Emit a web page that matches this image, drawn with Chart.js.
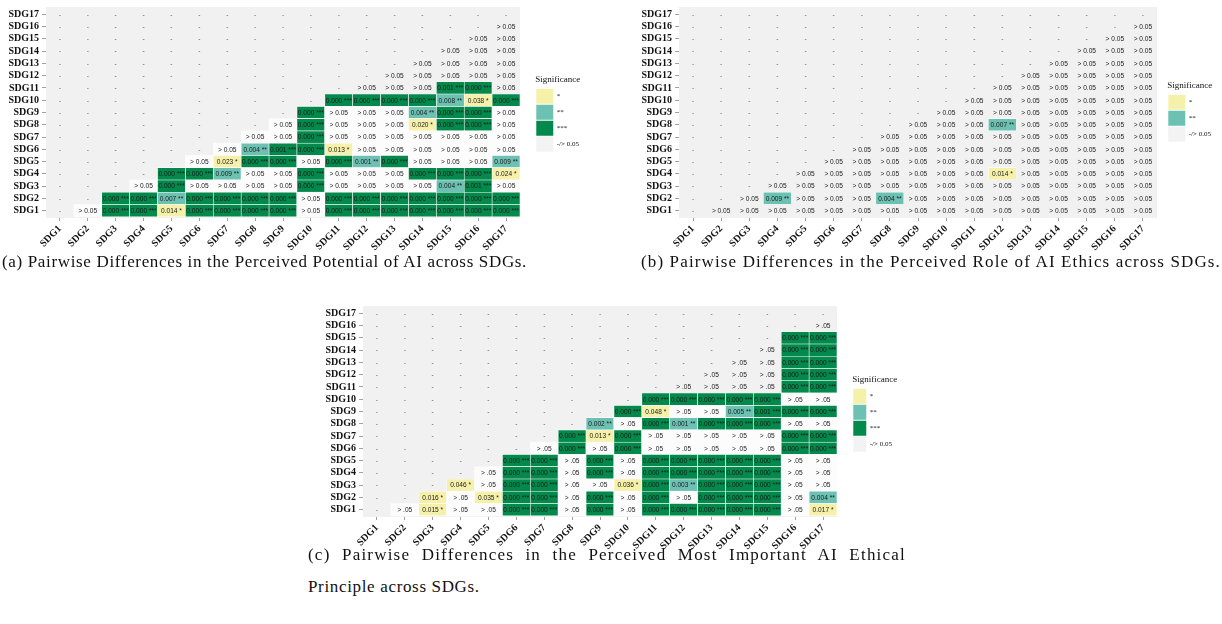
<!DOCTYPE html>
<html><head><meta charset="utf-8">
<script src="https://cdn.jsdelivr.net/npm/chart.js@4.4.1/dist/chart.umd.min.js"></script>
<style>
html,body{margin:0;padding:0;background:#fff;overflow:hidden;width:1222px;height:624px;position:relative;}
canvas{position:absolute;}
.cap{position:absolute;font-family:'Liberation Serif','Times New Roman',serif;font-size:17px;line-height:20px;color:#111;white-space:nowrap;}
</style></head><body>
<canvas id="chartA"></canvas>
<canvas id="chartB"></canvas>
<canvas id="chartC"></canvas>
<div class="cap" id="capA">(a) Pairwise Differences in the Perceived Potential of AI across SDGs.</div>
<div class="cap" id="capB">(b) Pairwise Differences in the Perceived Role of AI Ethics across SDGs.</div>
<div class="cap" id="capC1">(c) Pairwise Differences in the Perceived Most Important AI Ethical</div>
<div class="cap" id="capC2">Principle across SDGs.</div>
<script>
// ---------- data ----------
const sdgLabels = ['SDG1','SDG2','SDG3','SDG4','SDG5','SDG6','SDG7','SDG8','SDG9','SDG10','SDG11','SDG12','SDG13','SDG14','SDG15','SDG16','SDG17'];
const legendFull = ['*','**','***','-/> 0.05'];
const legendEthics = ['*','**','-/> 0.05'];

// Row i lists the comparisons SDGi vs SDG(i+1) ... SDG17; 'ns' = not significant
const potentialRows = [
 ['ns','0.000 ***','0.000 ***','0.014 *','0.000 ***','0.000 ***','0.000 ***','0.000 ***','ns','0.000 ***','0.000 ***','0.000 ***','0.000 ***','0.000 ***','0.000 ***','0.000 ***'],
 ['0.000 ***','0.000 ***','0.007 **','0.000 ***','0.000 ***','0.000 ***','0.000 ***','ns','0.000 ***','0.000 ***','0.000 ***','0.000 ***','0.000 ***','0.000 ***','0.000 ***'],
 ['ns','0.000 ***','ns','ns','ns','ns','0.000 ***','ns','ns','ns','ns','0.004 **','0.001 ***','ns'],
 ['0.000 ***','0.000 ***','0.009 **','ns','ns','0.000 ***','ns','ns','ns','0.000 ***','0.000 ***','0.000 ***','0.024 *'],
 ['ns','0.023 *','0.000 ***','0.000 ***','ns','0.000 ***','0.001 **','0.000 ***','ns','ns','ns','0.009 **'],
 ['ns','0.004 **','0.001 ***','0.000 ***','0.013 *','ns','ns','ns','ns','ns','ns'],
 ['ns','ns','0.000 ***','ns','ns','ns','ns','ns','ns','ns'],
 ['ns','0.000 ***','ns','ns','ns','0.020 *','0.000 ***','0.000 ***','ns'],
 ['0.000 ***','ns','ns','ns','0.004 **','0.000 ***','0.000 ***','ns'],
 ['0.000 ***','0.000 ***','0.000 ***','0.000 ***','0.008 **','0.038 *','0.000 ***'],
 ['ns','ns','ns','0.001 ***','0.000 ***','ns'],
 ['ns','ns','ns','ns','ns'],
 ['ns','ns','ns','ns'],
 ['ns','ns','ns'],
 ['ns','ns'],
 ['ns'],
 []
];

const ethicsRoleRows = [
 ['ns','ns','ns','ns','ns','ns','ns','ns','ns','ns','ns','ns','ns','ns','ns','ns'],
 ['ns','0.009 **','ns','ns','ns','0.004 **','ns','ns','ns','ns','ns','ns','ns','ns','ns'],
 ['ns','ns','ns','ns','ns','ns','ns','ns','ns','ns','ns','ns','ns','ns'],
 ['ns','ns','ns','ns','ns','ns','ns','0.014 *','ns','ns','ns','ns','ns'],
 ['ns','ns','ns','ns','ns','ns','ns','ns','ns','ns','ns','ns'],
 ['ns','ns','ns','ns','ns','ns','ns','ns','ns','ns','ns'],
 ['ns','ns','ns','ns','ns','ns','ns','ns','ns','ns'],
 ['ns','ns','ns','0.007 **','ns','ns','ns','ns','ns'],
 ['ns','ns','ns','ns','ns','ns','ns','ns'],
 ['ns','ns','ns','ns','ns','ns','ns'],
 ['ns','ns','ns','ns','ns','ns'],
 ['ns','ns','ns','ns','ns'],
 ['ns','ns','ns','ns'],
 ['ns','ns','ns'],
 ['ns','ns'],
 ['ns'],
 []
];

const principleRows = [
 ['ns','0.015 *','ns','ns','0.000 ***','0.000 ***','ns','0.000 ***','ns','0.000 ***','0.000 ***','0.000 ***','0.000 ***','0.000 ***','ns','0.017 *'],
 ['0.016 *','ns','0.035 *','0.000 ***','0.000 ***','ns','0.000 ***','ns','0.000 ***','ns','0.000 ***','0.000 ***','0.000 ***','ns','0.004 **'],
 ['0.046 *','ns','0.000 ***','0.000 ***','ns','ns','0.036 *','0.000 ***','0.003 **','0.000 ***','0.000 ***','0.000 ***','ns','ns'],
 ['ns','0.000 ***','0.000 ***','ns','0.000 ***','ns','0.000 ***','0.000 ***','0.000 ***','0.000 ***','0.000 ***','ns','ns'],
 ['0.000 ***','0.000 ***','ns','0.000 ***','ns','0.000 ***','0.000 ***','0.000 ***','0.000 ***','0.000 ***','ns','ns'],
 ['ns','0.000 ***','ns','0.000 ***','ns','ns','ns','ns','ns','0.000 ***','0.000 ***'],
 ['0.000 ***','0.013 *','0.000 ***','ns','ns','ns','ns','ns','0.000 ***','0.000 ***'],
 ['0.002 **','ns','0.000 ***','0.001 **','0.000 ***','0.000 ***','0.000 ***','ns','ns'],
 ['0.000 ***','0.048 *','ns','ns','0.005 **','0.001 ***','0.000 ***','0.000 ***'],
 ['0.000 ***','0.000 ***','0.000 ***','0.000 ***','0.000 ***','ns','ns'],
 ['ns','ns','ns','ns','0.000 ***','0.000 ***'],
 ['ns','ns','ns','0.000 ***','0.000 ***'],
 ['ns','ns','0.000 ***','0.000 ***'],
 ['ns','0.000 ***','0.000 ***'],
 ['0.000 ***','0.000 ***'],
 ['ns'],
 []
];

// ---------- styling ----------
const SERIF = "'Liberation Serif', 'Times New Roman', serif";
const SANS = "'Liberation Sans', Arial, sans-serif";
const sigColors = ['#f6f1aa', '#6dc1b3', '#02894b'];   // *, **, ***
const nsLight = '#fcfcfc';
const panelBg = '#f1f1f1';
const legendNs = '#f3f3f3';

function starsOf(t) { if (!t || t === 'ns') return 0; const m = t.match(/\*+/); return m ? m[0].length : 0; }
function measure(font, text) { const c = document.createElement('canvas').getContext('2d'); c.font = font; return c.measureText(text).width; }

function makePanel(cfg) {
  const rows = cfg.rows;
  const datasets = sdgLabels.map((lab, i) => {
    const r = i + 1;
    const data = [], bg = [], bw = [];
    sdgLabels.forEach((_, j) => {
      const c = j + 1;
      if (c <= r) { data.push(null); bg.push('rgba(0,0,0,0)'); bw.push(0); return; }
      const t = rows[i][c - r - 1];
      const s = starsOf(t);
      data.push([r - 0.5, r + 0.5]);
      if (s > 0) { bg.push(sigColors[s - 1]); bw.push(0.6); }
      else { bg.push(r <= cfg.lightRows ? nsLight : panelBg); bw.push(0); }
    });
    return { label: lab, data, backgroundColor: bg, borderColor: '#ffffff', borderWidth: bw,
      borderSkipped: false, grouped: false, barPercentage: 1, categoryPercentage: 1 };
  });

  const legendFontSize = 7;
  const maxText = Math.max(...cfg.legendItems.map(t => measure(`${legendFontSize}px ${SERIF}`, t)));
  const legendW = 1 + cfg.boxW + legendFontSize / 2 + maxText + 10;
  const innerRight = cfg.chartRight - cfg.left;
  const W = Math.ceil(innerRight + cfg.boxLeft - 1 - cfg.chartRight + legendW);
  const gap = W - legendW - innerRight;
  const H = 255;
  const cv = document.getElementById(cfg.id);
  cv.width = W; cv.height = H;
  cv.style.left = cfg.left + 'px'; cv.style.top = cfg.top + 'px';

  const tickFont = { family: SERIF, size: 10, weight: 'bold' };
  const textPlugin = {
    id: 'cellText' + cfg.id,
    afterDatasetsDraw(chart) {
      const { ctx, scales: { x, y } } = chart;
      ctx.save();
      ctx.font = `6.6px ${SANS}`;
      ctx.textAlign = 'center'; ctx.textBaseline = 'middle';
      sdgLabels.forEach((_, i) => {
        const r = i + 1;
        sdgLabels.forEach((_, j) => {
          const c = j + 1;
          let t;
          if (c <= r) { t = '-'; ctx.fillStyle = '#555'; }
          else { const v = rows[i][c - r - 1]; t = v === 'ns' ? cfg.nsText : v; ctx.fillStyle = '#1a1a1a'; }
          ctx.fillText(t, x.getPixelForValue(j), y.getPixelForValue(r) + 0.5);
        });
      });
      ctx.restore();
    }
  };
  const bgPlugin = {
    id: 'panelBg' + cfg.id,
    beforeDatasetsDraw(chart) {
      const { ctx, chartArea: a } = chart;
      ctx.save(); ctx.fillStyle = panelBg; ctx.fillRect(a.left, a.top, a.width, a.height); ctx.restore();
    }
  };

  return new Chart(cv, {
    type: 'bar',
    data: { labels: sdgLabels, datasets },
    options: {
      responsive: false, animation: false, devicePixelRatio: 1,
      layout: { autoPadding: false, padding: { top: 7, left: 0, right: 0, bottom: 0 } },
      plugins: {
        tooltip: { enabled: false },
        legend: {
          display: true, position: 'right', align: 'start', fullSize: true,
          onClick: null,
          title: { display: true, text: 'Significance', position: 'start', color: '#111',
            font: { family: SERIF, size: 9 }, padding: { top: cfg.legendTop, bottom: 2, left: 0, right: 0 } },
          labels: {
            boxWidth: cfg.boxW, boxHeight: 15, padding: 1, color: '#222',
            font: { family: SERIF, size: legendFontSize },
            generateLabels: () => cfg.legendItems.map((t, k) => ({
              text: t, fillStyle: cfg.legendColors[k], strokeStyle: 'rgba(0,0,0,0)', lineWidth: 0, hidden: false, index: k
            }))
          }
        }
      },
      scales: {
        x: {
          type: 'category', offset: true,
          grid: { display: true, drawOnChartArea: false, drawTicks: true, tickLength: 3, color: '#a0a0a0', offset: false },
          border: { display: false },
          ticks: { autoSkip: false, maxRotation: 45, minRotation: 45, padding: 2, color: '#111', font: tickFont },
          afterFit(s) { s.height = H - 7 - 211; s.paddingLeft = 0; s.paddingRight = 0; }
        },
        y: {
          type: 'linear', min: 0.4, max: 17.6,
          grid: { display: true, drawOnChartArea: false, drawTicks: true, tickLength: 4, color: '#a0a0a0' },
          border: { display: false },
          afterBuildTicks(s) { s.ticks = sdgLabels.map((_, i) => ({ value: i + 1 })); },
          ticks: { autoSkip: false, padding: 3, color: '#111', font: tickFont, callback: (v) => sdgLabels[Math.round(v) - 1] },
          afterFit(s) { s.width = cfg.yW; s.paddingTop = 0; s.paddingBottom = 0; }
        },
        gap: {
          type: 'linear', position: 'right', display: true,
          grid: { display: false }, border: { display: false }, ticks: { display: false },
          afterFit(s) { s.width = gap; s.paddingTop = 0; s.paddingBottom = 0; }
        }
      }
    },
    plugins: [bgPlugin, textPlugin]
  });
}

makePanel({ id: 'chartA', left: 0, top: 0, yW: 46, chartRight: 520, boxLeft: 536, boxW: 17, legendTop: 68,
  rows: potentialRows, nsText: '> 0.05', lightRows: 10,
  legendItems: legendFull, legendColors: [sigColors[0], sigColors[1], sigColors[2], legendNs] });
makePanel({ id: 'chartB', left: 634, top: 0, yW: 45, chartRight: 1157, boxLeft: 1168, boxW: 17, legendTop: 74,
  rows: ethicsRoleRows, nsText: '> 0.05', lightRows: 0,
  legendItems: legendEthics, legendColors: [sigColors[0], sigColors[1], legendNs] });
makePanel({ id: 'chartC', left: 317, top: 299, yW: 46, chartRight: 837, boxLeft: 853, boxW: 13, legendTop: 69,
  rows: principleRows, nsText: '> .05', lightRows: 10,
  legendItems: legendFull, legendColors: [sigColors[0], sigColors[1], sigColors[2], legendNs] });

// ---------- captions ----------
function place(id, left, top) { const e = document.getElementById(id); e.style.left = left + 'px'; e.style.top = top + 'px'; return e; }
function fitLetters(el, target) {
  el.style.letterSpacing = '0px';
  const w = el.getBoundingClientRect().width;
  const ls = (target - w) / el.textContent.length;
  el.style.letterSpacing = ls + 'px';
  return ls;
}
const capA = place('capA', 2, 252);
const capB = place('capB', 641, 252);
const capC1 = place('capC1', 308, 545);
const capC2 = place('capC2', 308, 577);
const lsA = fitLetters(capA, 525);
fitLetters(capB, 580);
capC2.style.letterSpacing = lsA + 'px';
// justified first line of (c): moderate extra word space, rest by letter spacing
capC1.style.wordSpacing = '6px';
fitLetters(capC1, 598);
</script>
</body></html>
